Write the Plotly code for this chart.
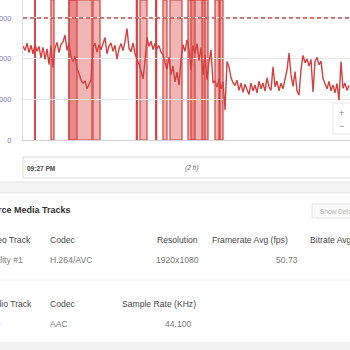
import plotly.graph_objects as go

# ---------------- data ----------------
step_min = 0.6  # sampling interval (minutes)
bitrate_kbps = [
    2310, 2200, 2380, 2150, 2330, 2120, 2360, 2180, 2300, 2020,
    2280, 1980, 2240, 1850, 2320, 1780, 2260, 2400, 2150, 2350,
    2410, 2580, 2200, 2380, 2050, 1930, 2060, 1750, 1640, 1470,
    1400, 1450, 1260, 1360, 1480, 2290, 2380, 2160, 2340, 2220,
    2370, 2520, 2120, 2310, 2390, 2180, 2330, 1990, 2240, 2370,
    2200, 2420, 2740, 2250, 2170, 2390, 2120, 2000, 1860, 1700,
    1500, 1950, 2520, 2300, 2430, 2220, 2380, 2250, 2320, 2160,
    2100, 1900, 1740, 2040, 1600, 1820, 1430, 1670, 1350, 1970,
    2340, 2180, 2460, 2230, 1720, 2320, 2130, 2370, 1950, 2270,
    1600, 2090, 1480, 1920, 2210, 1400, 1460, 1300, 1490, 1260,
    1430, 740, 1930, 1800, 1530, 1410, 1340, 1470, 1220, 1400,
    1170, 1370, 1260, 1120, 1400, 1210, 1350, 1160, 1440, 1260,
    1400, 1200, 1530, 1310, 1220, 1800, 1310, 1450, 1210, 1400,
    1260, 1490, 1720, 2140, 1600, 1320, 1680, 1210, 1100, 1730,
    2080, 1900, 1990, 1820, 1980, 1180, 1930, 2030, 1850, 1940,
    1510, 1390, 1260, 1440, 1210, 1350, 1160, 1390, 980, 1930,
    1270, 1400, 1220, 1340,
]
minutes = [round(i * step_min, 1) for i in range(len(bitrate_kbps))]
target_kbps = 3000

# interruption intervals (start, end) in minutes
gap_start = [3.5, 8.4, 13.8, 13.8, 21.0, 34.0, 35.1, 39.8, 42.0, 44.1, 49.5, 50.4, 53.7, 57.6, 58.8]
gap_end   = [3.7, 9.3, 16.2, 20.7, 23.1, 34.3, 37.2, 40.1, 43.2, 47.7, 55.5, 51.6, 54.6, 60.0, 59.1]

y_ticks = [0, 1000, 2000, 3000]
y_tick_labels = ["0", "1000", "2000", "3000"]

start_label = "09:27 PM"
span_label = "(2 h)"
section_title = "Source Media Tracks"
video_headers = ["Video Track", "Codec", "Resolution", "Framerate Avg (fps)", "Bitrate Avg (kbps)"]
video_row = ["Quality #1", "H.264/AVC", "1920x1080", "50.73"]
audio_headers = ["Audio Track", "Codec", "Sample Rate (KHz)"]
audio_row = ["Stereo", "AAC", "44,100"]

# ---------------- figure ----------------
W, H = 350, 350
L, T, B = 23, 0, 210
PW, PH = W - L, H - T - B

def PX(x):
    return (x - L) / PW

def PY(y):
    return (PH - y) / PH

RED = "#d7403e"
FONT = "Arial, Liberation Sans, sans-serif"

fig = go.Figure()
fig.add_trace(go.Scatter(x=minutes, y=bitrate_kbps, mode="lines",
                         line=dict(color=RED, width=1.4), hoverinfo="skip"))
fig.add_trace(go.Scatter(x=[minutes[0], minutes[-1] + 5], y=[target_kbps, target_kbps], mode="lines",
                         line=dict(color="#c45050", width=1.5, dash="4px,3px"), hoverinfo="skip"))

shapes = []
for s, e in zip(gap_start, gap_end):
    shapes.append(dict(type="rect", xref="x", yref="paper", x0=s, x1=e, y0=0, y1=1,
                       fillcolor="rgba(215,64,62,0.38)", line=dict(color=RED, width=1.2),
                       layer="between"))

# navigator box
shapes.append(dict(type="rect", xref="paper", yref="paper", x0=PX(23), x1=PX(352),
                   y0=PY(178), y1=PY(157), line=dict(color="#dcdcdc", width=1), fillcolor="white"))
# scrollbar band
shapes.append(dict(type="rect", xref="paper", yref="paper", x0=PX(-2), x1=PX(352),
                   y0=PY(193), y1=PY(182), line=dict(color="#e4e4e4", width=1), fillcolor="#f3f3f3"))
# show details button
shapes.append(dict(type="rect", xref="paper", yref="paper", x0=PX(312), x1=PX(360),
                   y0=PY(218), y1=PY(204), line=dict(color="#e6e6e6", width=1), fillcolor="#fbfbfb"))
# row separator
shapes.append(dict(type="line", xref="paper", yref="paper", x0=PX(-2), x1=PX(352),
                   y0=PY(280), y1=PY(280), line=dict(color="#ececec", width=1)))
# bottom band
shapes.append(dict(type="rect", xref="paper", yref="paper", x0=PX(-2), x1=PX(352),
                   y0=PY(352), y1=PY(342), line=dict(width=0), fillcolor="#f2f2f2"))
# zoom buttons box
shapes.append(dict(type="rect", xref="paper", yref="paper", x0=PX(333), x1=PX(352),
                   y0=PY(134), y1=PY(103), line=dict(color="#e8e8e8", width=1), fillcolor="white"))

ann = []
def text(t, x, y, size=8.6, color="#555", anchor="left", bold=False, italic=False):
    s = t
    if bold:
        s = "<b>" + s + "</b>"
    if italic:
        s = "<i>" + s + "</i>"
    ann.append(dict(text=s, xref="paper", yref="paper", x=PX(x), y=PY(y), xanchor=anchor,
                    yanchor="middle", showarrow=False, font=dict(size=size, color=color, family=FONT)))

text(start_label, 25, 168, size=6.5, color="#444", bold=True)
text(span_label, 183, 168, size=6.5, color="#555", italic=True)
text(section_title, 73, 210, size=9, color="#333", anchor="right", bold=True)
text("Show Details", 318, 211, size=6.5, color="#b5b5b5")
text("+", 341, 113, size=9, color="#888", anchor="center")
text("\u2212", 341, 126, size=9, color="#888", anchor="center")

hdr_c = "#4a4a4a"
val_c = "#7a7a7a"
text(video_headers[0], 33, 240, color=hdr_c, anchor="right")
text(video_headers[1], 48, 240, color=hdr_c)
text(video_headers[2], 155, 240, color=hdr_c)
text(video_headers[3], 210, 240, color=hdr_c)
text(video_headers[4], 308, 240, color=hdr_c)
text(video_row[0], 25, 260, color=val_c, anchor="right")
text(video_row[1], 48, 260, color=val_c)
text(video_row[2], 154, 260, color=val_c)
text(video_row[3], 274, 260, color=val_c)
text(audio_headers[0], 34, 304, color=hdr_c, anchor="right")
text(audio_headers[1], 48, 304, color=hdr_c)
text(audio_headers[2], 198, 304, color=hdr_c, anchor="right")
text(audio_row[0], 3, 324, color=val_c, anchor="right")
text(audio_row[1], 48, 324, color=val_c)
text(audio_row[2], 194, 324, color=val_c, anchor="right")

fig.update_layout(
    width=W, height=H, margin=dict(l=L, r=0, t=T, b=B, pad=0),
    paper_bgcolor="white", plot_bgcolor="white", showlegend=False,
    template="none", shapes=shapes, annotations=ann,
    xaxis=dict(range=[0, 98.1], showgrid=False, zeroline=False, showticklabels=False,
               showline=True, linecolor="#d4d4d4", linewidth=1, ticks="", automargin=False,
               fixedrange=True),
    yaxis=dict(range=[0, 3442], tickvals=y_ticks, ticktext=y_tick_labels,
               showgrid=True, gridcolor="#e8e8e8", gridwidth=1, zeroline=False,
               showline=True, linecolor="#dcdcf0", linewidth=1, ticks="",
               ticklabelstandoff=9, automargin=False, fixedrange=True,
               tickfont=dict(size=7.5, color="#8080c8", family=FONT)),
)

fig.write_html("out.html", config=dict(displayModeBar=False))
